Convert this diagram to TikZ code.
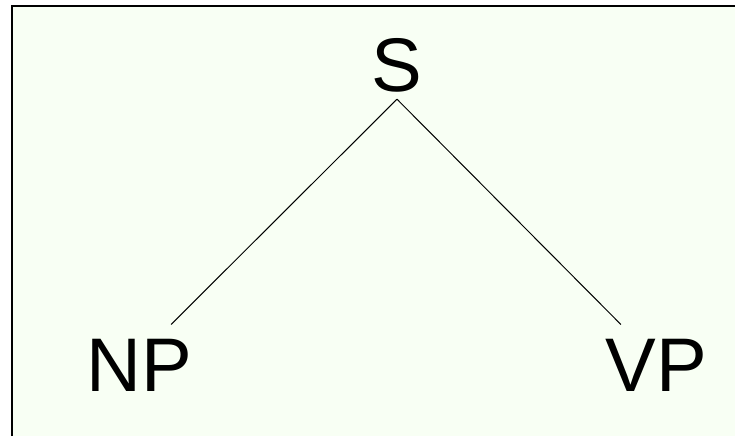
\documentclass[tikz,border=0pt]{standalone}
\usepackage{fontspec}
\setmainfont{Liberation Sans}
\definecolor{fondo}{RGB}{248,255,244}
\tikzset{
  cat/.style={font=\fontsize{76}{76}\selectfont, text depth=0pt, inner xsep=0pt, inner ysep=14pt, anchor=base},
  raiz/.style={cat, inner ysep=8pt},
  rama/.style={line width=1pt}
}
\begin{document}
\begin{tikzpicture}[x=1pt, y=-1pt, line cap=butt]
  \useasboundingbox (0,0) rectangle (735,436);
  % el fondo y el marco
  \fill[fondo] (12,6) rectangle (735,436);
  \draw[line width=2.3pt] (12,436) -- (12,6) -- (735,6);
  % las categorias
  \node[raiz] (S) at (397,91) {S};
  \node[cat] (NP) at (139.5,391) {NP};
  \node[cat] (VP) at (656,391) {VP};
  % las ramas
  \draw[rama] (S.south) -- (NP.52);
  \draw[rama] (S.south) -- (VP.131);
\end{tikzpicture}
\end{document}
